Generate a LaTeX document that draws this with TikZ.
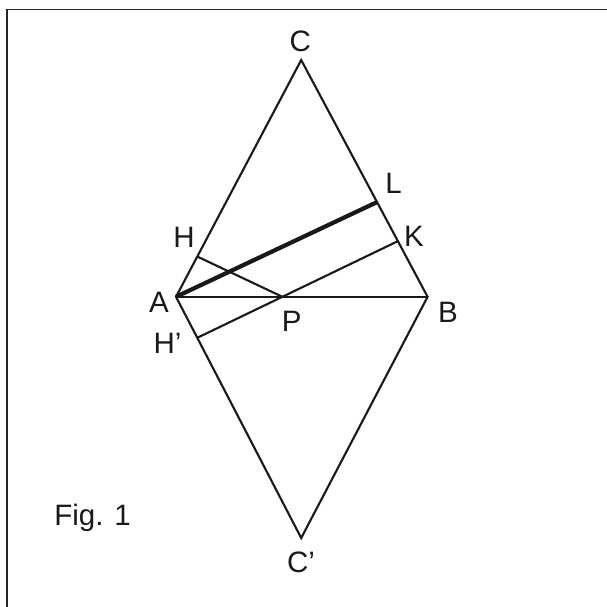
\documentclass[tikz,border=0pt]{standalone}
\usepackage{fontspec}
\setmainfont{Liberation Sans}
\usepackage{tikz}
\usetikzlibrary{calc}

\begin{document}
\begin{tikzpicture}[
      edge/.style={line width=1.5pt, black!90, line join=miter},
      thickedge/.style={line width=3pt, black!90},
      framel/.style={line width=1pt, black!85},
      lbl/.style={draw=none, fill=none, inner sep=0pt,
          font=\fontsize{21}{25}\selectfont, black!90},
    ]
    \useasboundingbox (0,0) rectangle (15.175,-15.175);

    %% ── FRAME ───────────────────────────────────────────────────────────────
    \coordinate (fbl) at (0.175,-15.175);
    \coordinate (ftl) at (0.175,-0.2325);
    \coordinate (ftr) at (15.175,-0.2325);
    \draw[framel] (fbl) -- (ftl) -- (ftr);

    %% ── RHOMBUS ─────────────────────────────────────────────────────────────
    \coordinate (A)  at (4.40,-7.42);
    \coordinate (B)  at (10.69,-7.42);
    \coordinate (C)  at (7.53,-1.50);
    \coordinate (Cp) at (7.53,-13.45);
    \coordinate (P)  at (7.06,-7.42);
    \coordinate (H)  at ($(A)!0.17!(C)$);
    \coordinate (Hp) at ($(A)!0.17!(Cp)$);
    \coordinate (L)  at ($(B)!0.40!(C)$);
    \coordinate (K)  at ($(B)!0.235!(C)$);

    \draw[edge] (A) -- (C) -- (B) -- (Cp) -- cycle;
    \draw[edge] (A) -- (B);
    \draw[edge] (H) -- (P);
    \draw[edge] (Hp) -- (K);
    \draw[thickedge] (A) -- (L);

    %% ── LABELS ──────────────────────────────────────────────────────────────
    \node[lbl] at (7.51,-1.04)  (lC)  {C};
    \node[lbl] at (9.84,-4.575) (lL)  {L};
    \node[lbl] at (4.60,-5.925) (lH)  {H};
    \node[lbl] at (10.35,-5.90) (lK)  {K};
    \node[lbl] at (3.975,-7.56) (lA)  {A};
    \node[lbl] at (7.29,-8.025) (lP)  {P};
    \node[lbl] at (11.20,-7.80) (lB)  {B};
    \node[lbl] at (4.19,-8.59)  (lHp) {H’};
    \node[lbl] at (7.525,-14.05) (lCp) {C’};
    \node[lbl, anchor=base west] at (1.35,-13.14) (fig) {Fig. 1};

  \end{tikzpicture}
\end{document}
